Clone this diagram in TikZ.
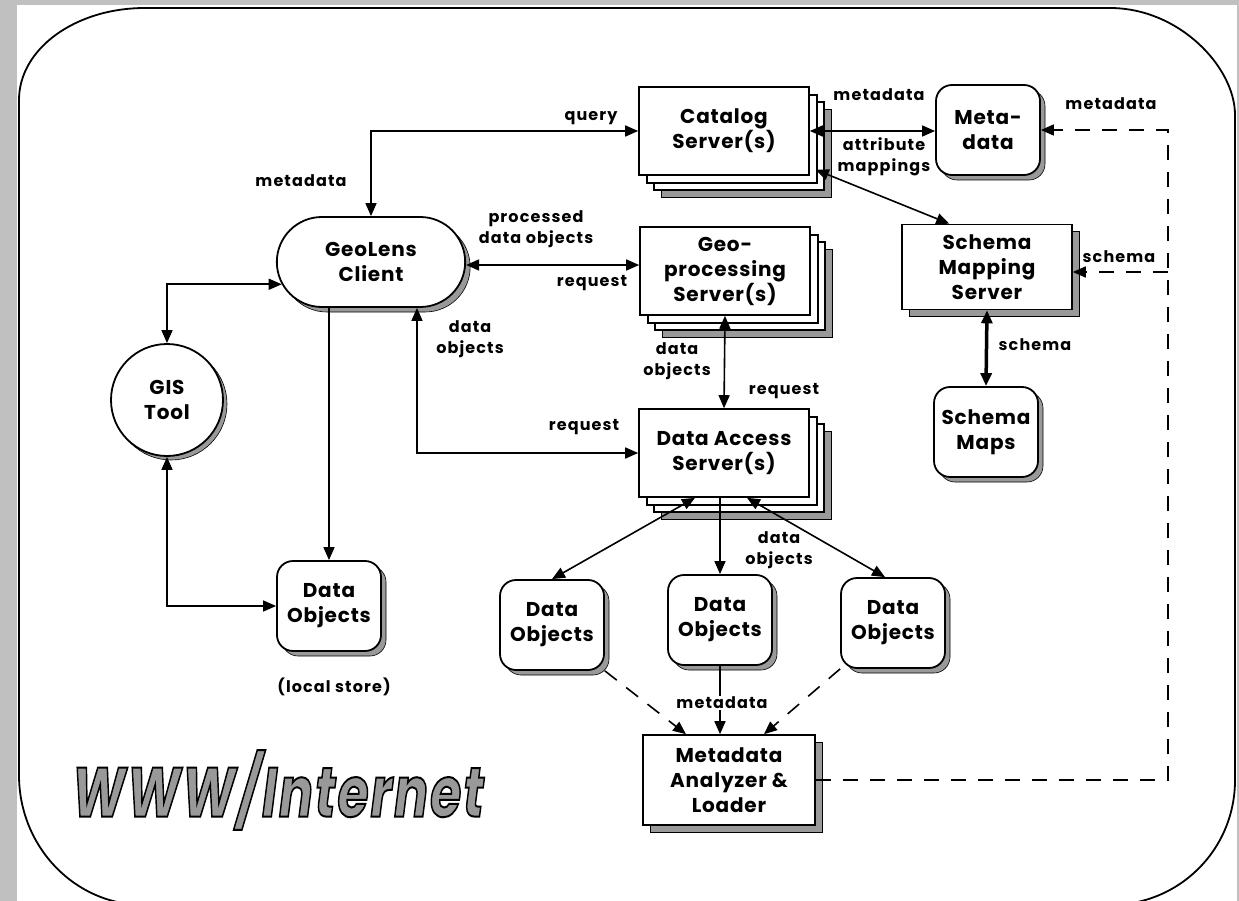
\documentclass[tikz,border=0pt]{standalone}
\usepackage{fontspec}
\usetikzlibrary{arrows.meta,shapes.misc,shadows}
\newfontfamily\gothic{Poppins}[LetterSpace=4]
\newfontfamily\gothicwide{Poppins}[LetterSpace=7]
\newcommand\boxfont{\gothic\bfseries\fontsize{20}{25}\selectfont}
\newcommand\lblfont{\gothicwide\bfseries\fontsize{16}{21}\selectfont}
\newcommand\outlined[1]{\special{pdf:literal direct 0 G 2 w 2 Tr}#1\special{pdf:literal direct 0 Tr}}
\definecolor{edgegray}{HTML}{C0C0C0}
\definecolor{shadegray}{gray}{0.6}

\tikzset{
  gshadow/.style={general shadow={shadow xshift=#1,shadow yshift=-#1,fill=shadegray,draw=black,line width=0.6pt}},
  srvbox/.style={draw,fill=white,line width=1.6pt,align=center,font=\boxfont,
    minimum width=170pt,minimum height=88pt,inner sep=2pt},
  srvstack/.style={srvbox,gshadow=22pt,
    general shadow={shadow xshift=15pt,shadow yshift=-15pt,fill=white,draw=black,line width=1.6pt},
    general shadow={shadow xshift=8pt,shadow yshift=-8pt,fill=white,draw=black,line width=1.6pt}},
  storebox/.style={draw,fill=white,line width=1.8pt,rounded corners=16pt,align=center,font=\boxfont,
    minimum width=104pt,minimum height=90pt,inner sep=0pt,gshadow=5pt},
  clientshape/.style={rounded rectangle,draw,fill=white,line width=1.8pt,align=center,font=\boxfont,
    minimum width=195pt,minimum height=90pt,gshadow=5pt},
  toolshape/.style={circle,draw,fill=white,line width=1.8pt,align=center,font=\boxfont,
    minimum size=112pt,gshadow=4pt},
  lbl/.style={font=\lblfont,align=center,inner sep=1pt},
  link/.style={line width=1.6pt},
  dashlink/.style={line width=1.6pt,dash pattern=on 15pt off 12pt}
}

\begin{document}
\begin{tikzpicture}[x=1pt,y=-1pt,>={Triangle[length=13pt,width=11pt]}]
\useasboundingbox (0,0) rectangle (1239,901);
% page edge and frame
\fill[edgegray] (0,0) rectangle (17,901);
\fill[edgegray] (0,0) rectangle (1239,5);
\fill[edgegray] (1237,0) rectangle (1239,901);
\draw[line width=1.8pt] (19,775) -- (19,100)
  .. controls (19,49) and (75,8) .. (145,8) -- (1110,8)
  .. controls (1179,8) and (1235,67) .. (1235,115) -- (1235,780);
\draw[line width=1.8pt] (19,775) .. controls (19,847) and (75,905) .. (144,905) -- (1110,905)
  .. controls (1179,905) and (1235,850) .. (1235,780);

% nodes
\node[srvstack] (catalog) at (724,131) {Catalog\\Server(s)};
\node[storebox] (metadb) at (988,130) {Meta-\\data};
\node[clientshape] (client) at (371,262) {GeoLens\\Client};
\node[srvstack] (geoproc) at (725,271) {Geo-\\processing\\Server(s)};
\node[srvbox,gshadow=7pt,minimum height=85pt] (schemasrv) at (987,267) {Schema\\Mapping\\Server};
\node[toolshape] (gis) at (167,400) {GIS\\Tool};
\node[storebox] (schemamaps) at (986,432) {Schema\\Maps};
\node[srvstack] (access) at (724,453) {Data Access\\Server(s)};
\node[storebox] (localdo) at (329,606) {Data\\Objects};
\node[storebox] (do1) at (552,625) {Data\\Objects};
\node[storebox] (do2) at (720,620) {Data\\Objects};
\node[storebox] (do3) at (893,623) {Data\\Objects};
\node[srvbox,gshadow=7pt,minimum width=172pt,minimum height=90pt] (loader) at (729,780) {Metadata\\Analyzer \&\\Loader};
\coordinate (bus) at (1168,130);
\coordinate (schemain) at ([yshift=-5pt]schemasrv.east);

% connectors
\draw[link,<->] (client.north) |- (catalog.west);
\draw[link,<->] (catalog.east) -- (catalog.east -| metadb.west);
\draw[link,<->] ([xshift=6pt,yshift=6pt]catalog.south east) -- ([xshift=48pt]schemasrv.north west);
\draw[link,<->] ([yshift=-3pt]client.east) -- ([yshift=-3pt]client.east -| geoproc.west);
\draw[link,<->] ([xshift=46pt]client.south) |- (access.west);
\draw[link,->] (localdo.north |- client.south) -- (localdo.north);
\draw[link,<->] (gis.north) |- (client.194);
\draw[link,<->] (gis.south) |- (localdo.west);
\draw[link,<->] (geoproc.south) -- (access.north);
\draw[link,<->] ([xshift=-29pt]access.south) -- (do1.north);
\draw[link,->] (access.south -| do2.north) -- (do2.north);
\draw[link,<->] ([xshift=23pt]access.south) -- ([xshift=-8pt]do3.north);
\draw[dashlink,->] (do1.south east) -- ([xshift=-43pt]loader.north);
\draw[dashlink,->] (do3.south west) -- ([xshift=35pt]loader.north);
\draw[link,->] (do2.south) -- (do2.south |- loader.north);
\draw[dashlink,->] (loader.east) -| (bus) -- (bus -| metadb.east);
\draw[dashlink,->] (bus |- schemain) -- (schemain);
\draw[line width=3.5pt,<->] (schemasrv.south) -- (schemamaps.north);

% labels
\node[lbl] (querylbl) at (591,118) {query};
\node[lbl] (mdleft) at (301,181) {metadata};
\node[lbl] (mdtop) at (879,95) {metadata};
\node[lbl] (attrlbl) at (884,157) {attribute\\mappings};
\node[lbl] (proclbl) at (536,229) {processed\\data objects};
\node[lbl] (reqgeo) at (592,283) {request};
\node[lbl] (dobclient) at (470,339) {data\\objects};
\node[lbl] (reqaccess) at (584,427) {request};
\node[lbl] (dobgeo) at (677,361) {data\\objects};
\node[lbl] (reqdown) at (784,391) {request};
\node[lbl] (dobaccess) at (779,550) {data\\objects};
\node[lbl,fill=white] (mdmid) at (722,703) {metadata};
\node[lbl] (storelbl) at (334,687) {(local store)};
\node[lbl] (mdright) at (1111,104) {metadata};
\node[lbl] (schemaright) at (1119,257) {schema};
\node[lbl] (schemamid) at (1035,345) {schema};
\node[font=\gothic\bfseries\itshape\fontsize{70}{72}\selectfont] (www) at (278,790)
  {\scalebox{0.72}[1]{\color{shadegray}\outlined{WWW/Internet}}};
\end{tikzpicture}
\end{document}
